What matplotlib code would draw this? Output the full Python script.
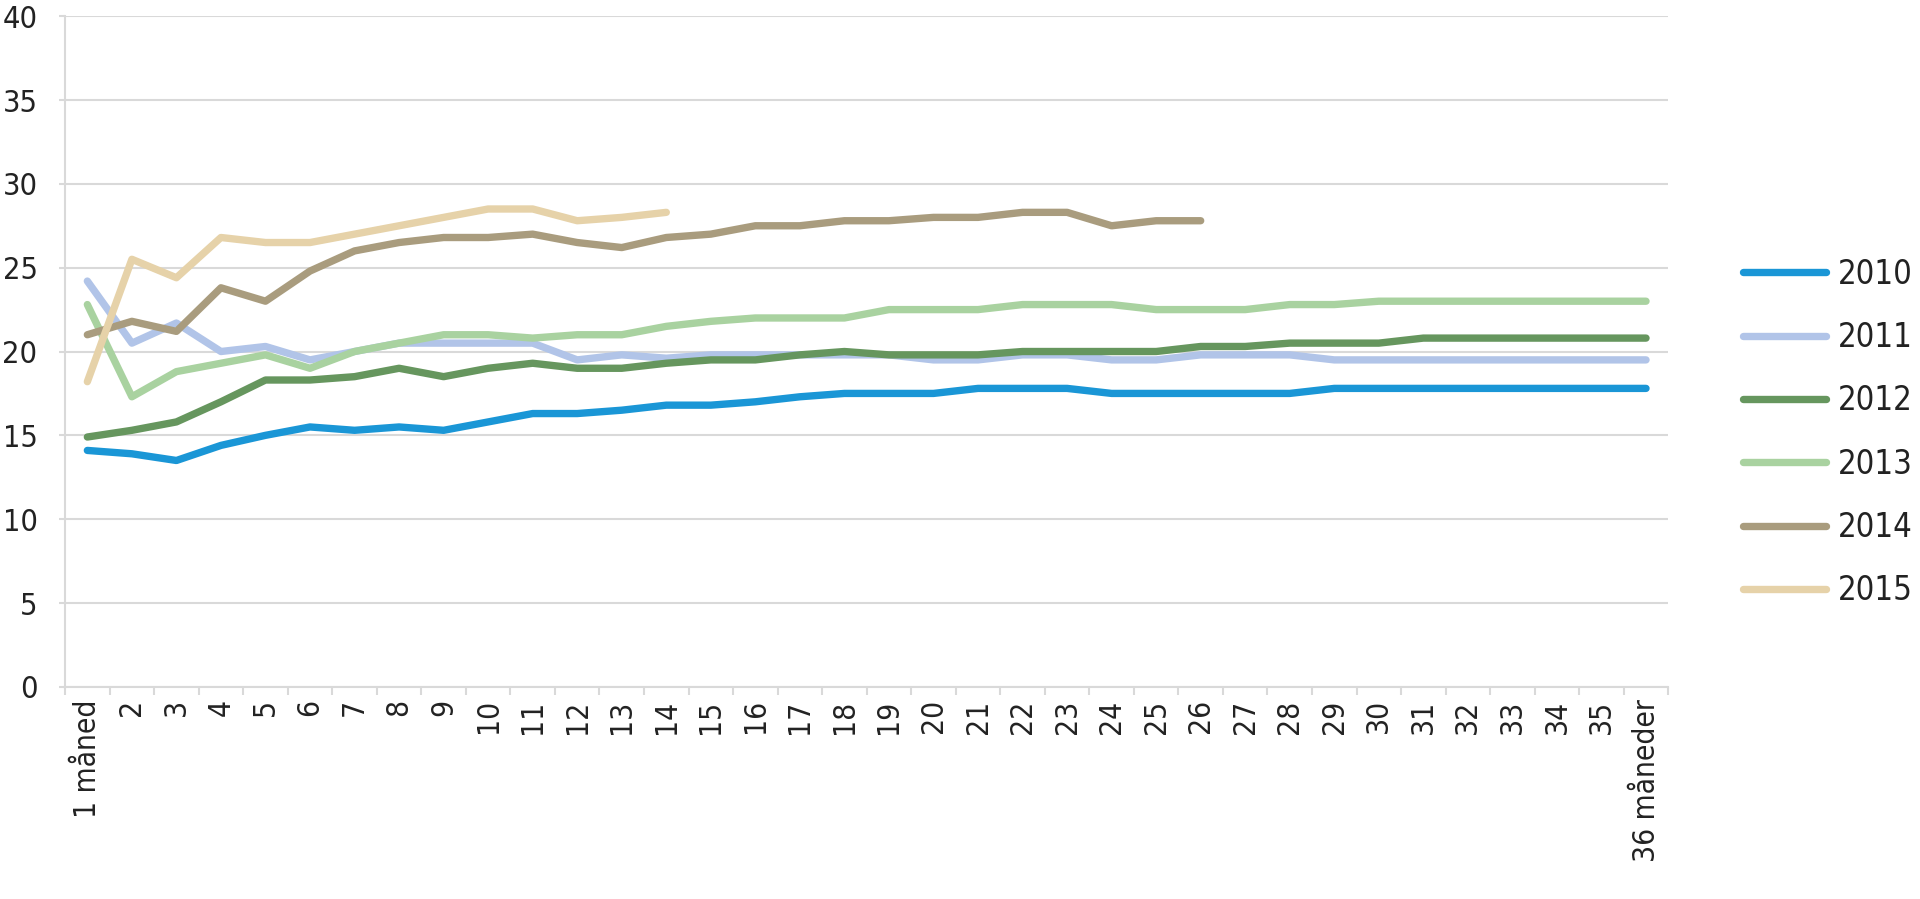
import matplotlib.pyplot as plt

# data
months = list(range(1, 37))
month_labels = ['1 måned'] + [str(m) for m in range(2, 36)] + ['36 måneder']

y2010 = [14.1, 13.9, 13.5, 14.4, 15.0, 15.5, 15.3, 15.5, 15.3, 15.8, 16.3, 16.3, 16.5, 16.8, 16.8, 17.0,
         17.3, 17.5, 17.5, 17.5, 17.8, 17.8, 17.8, 17.5, 17.5, 17.5, 17.5, 17.5,
         17.8, 17.8, 17.8, 17.8, 17.8, 17.8, 17.8, 17.8]
y2011 = [24.2, 20.5, 21.7, 20.0, 20.3, 19.5, 20.0, 20.5, 20.5, 20.5, 20.5, 19.5, 19.8, 19.6, 19.8, 19.8,
         19.8, 19.8, 19.8, 19.5, 19.5, 19.8, 19.8, 19.5, 19.5, 19.8, 19.8, 19.8,
         19.5, 19.5, 19.5, 19.5, 19.5, 19.5, 19.5, 19.5]
y2012 = [14.9, 15.3, 15.8, 17.0, 18.3, 18.3, 18.5, 19.0, 18.5, 19.0, 19.3, 19.0, 19.0, 19.3, 19.5, 19.5,
         19.8, 20.0, 19.8, 19.8, 19.8, 20.0, 20.0, 20.0, 20.0, 20.3, 20.3, 20.5,
         20.5, 20.5, 20.8, 20.8, 20.8, 20.8, 20.8, 20.8]
y2013 = [22.8, 17.3, 18.8, 19.3, 19.8, 19.0, 20.0, 20.5, 21.0, 21.0, 20.8, 21.0, 21.0, 21.5, 21.8, 22.0,
         22.0, 22.0, 22.5, 22.5, 22.5, 22.8, 22.8, 22.8, 22.5, 22.5, 22.5, 22.8,
         22.8, 23.0, 23.0, 23.0, 23.0, 23.0, 23.0, 23.0]
y2014 = [21.0, 21.8, 21.2, 23.8, 23.0, 24.8, 26.0, 26.5, 26.8, 26.8, 27.0, 26.5, 26.2, 26.8, 27.0, 27.5,
         27.5, 27.8, 27.8, 28.0, 28.0, 28.3, 28.3, 27.5, 27.8, 27.8]
y2015 = [18.2, 25.5, 24.4, 26.8, 26.5, 26.5, 27.0, 27.5, 28.0, 28.5, 28.5, 27.8, 28.0, 28.3]

series = [('2010', y2010, '#1a96d6'),
          ('2011', y2011, '#b1c4e8'),
          ('2012', y2012, '#66965e'),
          ('2013', y2013, '#a9d2a0'),
          ('2014', y2014, '#a99c7e'),
          ('2015', y2015, '#e6d2a9')]

plt.rcParams['font.family'] = ['DejaVu Sans']
plt.rcParams['font.stretch'] = 'condensed'
text_color = '#222222'
grid_color = '#d9d9d9'

fig = plt.figure(figsize=(19.2, 8.99), dpi=100)
ax = fig.add_axes([0.0339, 0.236, 0.8350, 0.746])

for name, vals, col in series:
    ax.plot(months[:len(vals)], vals, color=col, lw=5.3, solid_capstyle='round',
            solid_joinstyle='round', label=name)

ax.set_xlim(0.5, 36.5)
ax.set_ylim(0, 40)
ax.set_yticks(range(0, 41, 5))
ax.yaxis.grid(True, color=grid_color, lw=1.5)
ax.set_axisbelow(True)

ax.set_xticks(months)
ax.set_xticklabels(month_labels, rotation=90, fontsize=21.5, color=text_color)
ax.set_xticks([m + 0.5 for m in range(0, 37)], minor=True)
ax.tick_params(axis='x', which='major', length=0, pad=9)
ax.tick_params(axis='x', which='minor', length=5.5, width=1.5, color=grid_color)
ax.tick_params(axis='y', length=4.3, width=1.5, color=grid_color, labelsize=22,
               labelcolor=text_color, pad=15.5)

for side in ['top', 'right']:
    ax.spines[side].set_visible(False)
for side in ['left', 'bottom']:
    ax.spines[side].set_color(grid_color)
    ax.spines[side].set_linewidth(1.5)

leg = fig.legend(loc='upper left', bbox_to_anchor=(0.8925, 0.746), frameon=False,
                 fontsize=23.5, handlelength=2.55, handletextpad=0.36, labelspacing=0.93)
for t in leg.get_texts():
    t.set_color(text_color)

plt.savefig('out.png', dpi=100)
